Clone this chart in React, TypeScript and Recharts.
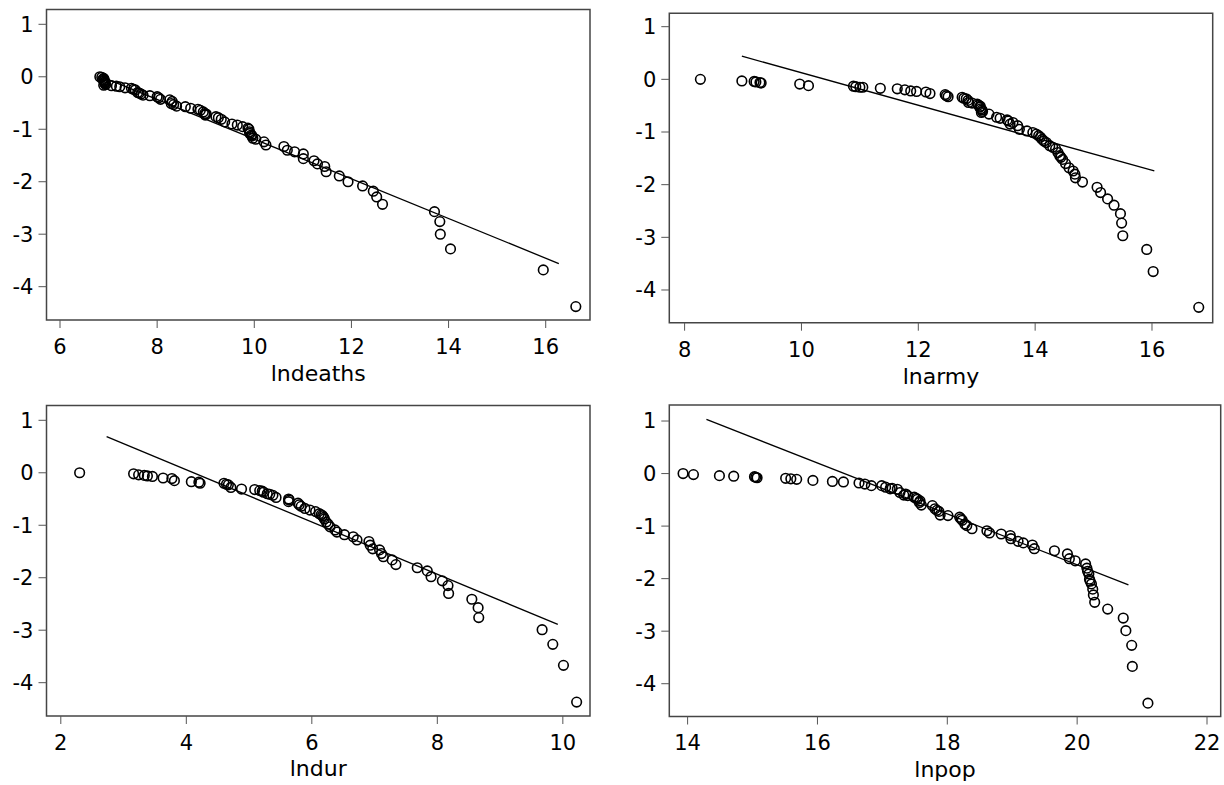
import { ScatterChart, Scatter, XAxis, YAxis, ReferenceArea } from "recharts";

// lndeaths panel (rank plot)
const deathsX = [6.82, 6.86, 6.9, 6.88, 6.91, 6.91, 6.92, 6.92, 6.93, 6.94, 6.9, 7.06, 7.16, 7.23, 7.34, 7.47, 7.51, 7.55, 7.6, 7.63, 7.67, 7.71, 7.85, 8.0, 8.03, 8.07, 8.26, 8.31, 8.29, 8.34, 8.4, 8.58, 8.69, 8.84, 8.89, 8.95, 8.98, 9.01, 8.99, 9.21, 9.26, 9.32, 9.39, 9.54, 9.65, 9.76, 9.87, 9.89, 9.9, 9.91, 9.94, 9.95, 9.97, 10.03, 10.2, 10.24, 10.61, 10.68, 10.83, 11.01, 11.01, 11.23, 11.3, 11.45, 11.48, 11.75, 11.93, 12.23, 12.45, 12.52, 12.64, 13.71, 13.82, 13.83, 14.04, 15.95, 16.62];
const deathsY = [0, -0.01, -0.03, -0.05, -0.06, -0.08, -0.1, -0.12, -0.13, -0.15, -0.16, -0.17, -0.18, -0.19, -0.21, -0.22, -0.24, -0.25, -0.3, -0.31, -0.33, -0.35, -0.36, -0.38, -0.4, -0.43, -0.44, -0.47, -0.51, -0.53, -0.56, -0.57, -0.6, -0.62, -0.64, -0.67, -0.7, -0.71, -0.73, -0.76, -0.78, -0.81, -0.86, -0.9, -0.92, -0.95, -0.98, -1.0, -1.05, -1.08, -1.11, -1.13, -1.17, -1.19, -1.24, -1.3, -1.33, -1.4, -1.43, -1.47, -1.56, -1.6, -1.66, -1.71, -1.81, -1.89, -2.0, -2.08, -2.18, -2.29, -2.43, -2.57, -2.76, -3.0, -3.28, -3.68, -4.38];
const deathsFitX = [6.86, 16.27];
const deathsFitY = [0.0, -3.56];

// lnarmy panel
const armyX = [8.27, 8.98, 9.19, 9.22, 9.29, 9.31, 9.97, 10.12, 10.89, 10.93, 11.0, 11.05, 11.35, 11.64, 11.77, 11.87, 11.97, 12.13, 12.2, 12.46, 12.48, 12.51, 12.75, 12.78, 12.82, 12.85, 12.86, 12.92, 13.01, 13.03, 13.06, 13.05, 13.07, 13.09, 13.1, 13.08, 13.21, 13.34, 13.4, 13.52, 13.54, 13.62, 13.57, 13.7, 13.73, 13.86, 13.96, 14.02, 14.06, 14.09, 14.12, 14.15, 14.19, 14.25, 14.3, 14.35, 14.39, 14.42, 14.44, 14.47, 14.52, 14.58, 14.65, 14.68, 14.69, 14.81, 15.06, 15.12, 15.24, 15.35, 15.46, 15.48, 15.5, 15.91, 16.02, 16.8];
const armyY = [0, -0.03, -0.04, -0.05, -0.06, -0.07, -0.09, -0.12, -0.13, -0.14, -0.15, -0.15, -0.17, -0.18, -0.2, -0.22, -0.23, -0.24, -0.27, -0.29, -0.31, -0.33, -0.34, -0.36, -0.37, -0.4, -0.44, -0.45, -0.47, -0.49, -0.51, -0.53, -0.56, -0.58, -0.61, -0.63, -0.66, -0.72, -0.74, -0.77, -0.79, -0.82, -0.85, -0.88, -0.95, -0.98, -1.01, -1.04, -1.07, -1.1, -1.14, -1.17, -1.2, -1.26, -1.29, -1.32, -1.39, -1.45, -1.48, -1.52, -1.6, -1.68, -1.74, -1.8, -1.87, -1.95, -2.05, -2.15, -2.27, -2.39, -2.55, -2.73, -2.97, -3.23, -3.65, -4.33];
const armyFitX = [8.98, 16.04];
const armyFitY = [0.44, -1.74];

// lndur panel
const durX = [2.3, 3.16, 3.24, 3.33, 3.38, 3.46, 3.63, 3.77, 3.81, 4.08, 4.2, 4.22, 4.6, 4.64, 4.67, 4.71, 4.88, 5.09, 5.17, 5.21, 5.23, 5.29, 5.33, 5.38, 5.43, 5.63, 5.64, 5.63, 5.78, 5.8, 5.83, 5.89, 5.97, 6.06, 6.12, 6.15, 6.17, 6.19, 6.2, 6.23, 6.26, 6.29, 6.37, 6.4, 6.52, 6.66, 6.72, 6.91, 6.93, 6.97, 7.08, 7.11, 7.14, 7.28, 7.34, 7.68, 7.84, 7.9, 8.08, 8.17, 8.18, 8.55, 8.65, 8.66, 9.67, 9.84, 10.01, 10.22];
const durY = [0, -0.02, -0.04, -0.05, -0.06, -0.07, -0.1, -0.11, -0.15, -0.17, -0.18, -0.2, -0.2, -0.22, -0.23, -0.28, -0.31, -0.32, -0.34, -0.35, -0.37, -0.4, -0.41, -0.43, -0.47, -0.5, -0.52, -0.55, -0.58, -0.61, -0.64, -0.68, -0.71, -0.74, -0.78, -0.8, -0.82, -0.85, -0.88, -0.94, -0.98, -1.03, -1.09, -1.13, -1.18, -1.22, -1.28, -1.31, -1.38, -1.45, -1.47, -1.54, -1.6, -1.66, -1.75, -1.81, -1.87, -1.98, -2.06, -2.15, -2.3, -2.41, -2.57, -2.76, -2.99, -3.27, -3.67, -4.37];
const durFitX = [2.73, 9.92];
const durFitY = [0.69, -2.89];

// lnpop panel
const popX = [13.93, 14.09, 14.49, 14.71, 15.03, 15.05, 15.07, 15.51, 15.59, 15.68, 15.93, 16.23, 16.4, 16.64, 16.73, 16.83, 16.99, 17.05, 17.15, 17.12, 17.23, 17.27, 17.36, 17.33, 17.39, 17.49, 17.52, 17.54, 17.58, 17.57, 17.6, 17.77, 17.81, 17.84, 17.87, 17.89, 18.01, 18.19, 18.21, 18.23, 18.27, 18.3, 18.38, 18.61, 18.65, 18.83, 18.97, 18.98, 19.09, 19.17, 19.31, 19.34, 19.65, 19.85, 19.88, 19.97, 20.13, 20.15, 20.16, 20.18, 20.19, 20.2, 20.22, 20.24, 20.25, 20.27, 20.47, 20.71, 20.75, 20.84, 20.85, 21.09];
const popY = [0, -0.02, -0.04, -0.05, -0.06, -0.07, -0.08, -0.09, -0.1, -0.11, -0.13, -0.15, -0.16, -0.18, -0.2, -0.23, -0.23, -0.26, -0.28, -0.29, -0.3, -0.36, -0.39, -0.41, -0.42, -0.45, -0.47, -0.49, -0.52, -0.55, -0.6, -0.61, -0.67, -0.7, -0.72, -0.79, -0.8, -0.83, -0.86, -0.89, -0.96, -0.99, -1.05, -1.09, -1.13, -1.15, -1.18, -1.24, -1.29, -1.32, -1.36, -1.43, -1.47, -1.53, -1.62, -1.66, -1.72, -1.8, -1.86, -1.91, -2.01, -2.05, -2.1, -2.2, -2.31, -2.45, -2.58, -2.75, -2.99, -3.27, -3.67, -4.37];
const popFitX = [14.29, 20.79];
const popFitY = [1.03, -2.12];

const yTicks = [-4, -3, -2, -1, 0, 1];
const deathsTicks = [6, 8, 10, 12, 14, 16];
const armyTicks = [8, 10, 12, 14, 16];
const durTicks = [2, 4, 6, 8, 10];
const popTicks = [14, 16, 18, 20, 22];

const FONT = '"DejaVu Sans", sans-serif';

const zip = (xs: number[], ys: number[]) => xs.map((x, i) => ({ x, y: ys[i] }));

const Ring = (props: any) => {
  const { cx, cy } = props;
  if (cx == null || cy == null) return <g />;
  return <circle cx={cx} cy={cy} r={4.8} fill="none" stroke="#000" strokeWidth={1.6} />;
};
const NoDot = () => <g />;

interface PanelProps {
  cx: number;
  cy: number;
  w: number;
  h: number;
  x0: number;
  x1: number;
  y0: number;
  y1: number;
  xDomain: [number, number];
  yDomain: [number, number];
  xTicks: number[];
  title: string;
  baseline: number;
  points: { x: number; y: number }[];
  fit: { x: number; y: number }[];
}

function Panel(p: PanelProps) {
  const tickStyle = { fill: "#000", fontSize: 21, fontFamily: FONT };
  return (
    <div style={{ position: "absolute", left: p.cx, top: p.cy }}>
      <ScatterChart
        width={p.w}
        height={p.h}
        margin={{ top: p.y0 - p.cy, right: p.cx + p.w - p.x1, bottom: 0, left: 0 }}
      >
        <XAxis
          type="number"
          dataKey="x"
          domain={p.xDomain}
          allowDataOverflow
          ticks={p.xTicks}
          interval={0}
          tick={tickStyle}
          tickSize={8}
          tickMargin={11}
          tickLine={{ stroke: "#555" }}
          axisLine={false}
          height={p.cy + p.h - p.y1}
          label={{
            value: p.title,
            position: "insideBottom",
            offset: p.cy + p.h - p.baseline,
            style: { fill: "#000", fontSize: 22, fontFamily: FONT },
          }}
        />
        <YAxis
          type="number"
          dataKey="y"
          domain={p.yDomain}
          allowDataOverflow
          ticks={yTicks}
          interval={0}
          tick={tickStyle}
          tickSize={8}
          tickMargin={5}
          tickLine={{ stroke: "#555" }}
          axisLine={false}
          width={p.x0 - p.cx}
        />
        <ReferenceArea
          x1={p.xDomain[0]}
          x2={p.xDomain[1]}
          y1={p.yDomain[0]}
          y2={p.yDomain[1]}
          fill="none"
          stroke="#454545"
          strokeWidth={1.5}
        />
        <Scatter data={p.points} shape={Ring} isAnimationActive={false} />
        <Scatter
          data={p.fit}
          shape={NoDot}
          line={{ stroke: "#000", strokeWidth: 1.3 }}
          lineType="joint"
          isAnimationActive={false}
        />
      </ScatterChart>
    </div>
  );
}

export default function App() {
  return (
    <div style={{ position: "absolute", left: 0, top: 0, width: 1224, height: 785, background: "#fff" }}>
      <Panel
        cx={0} cy={0} w={604} h={395}
        x0={46.5} x1={590} y0={9.5} y1={320}
        xDomain={[5.722, 16.912]} yDomain={[-4.635, 1.282]}
        xTicks={deathsTicks} title="lndeaths" baseline={381}
        points={zip(deathsX, deathsY)} fit={zip(deathsFitX, deathsFitY)}
      />
      <Panel
        cx={606} cy={0} w={618} h={395}
        x0={669.3} x1={1212.7} y0={13.3} y1={322.7}
        xDomain={[7.738, 17.039]} yDomain={[-4.621, 1.254]}
        xTicks={armyTicks} title="lnarmy" baseline={384}
        points={zip(armyX, armyY)} fit={zip(armyFitX, armyFitY)}
      />
      <Panel
        cx={0} cy={396} w={604} h={389}
        x0={46.5} x1={590} y0={405.5} y1={716}
        xDomain={[1.772, 10.433]} yDomain={[-4.635, 1.282]}
        xTicks={durTicks} title="lndur" baseline={776}
        points={zip(durX, durY)} fit={zip(durFitX, durFitY)}
      />
      <Panel
        cx={606} cy={396} w={618} h={389}
        x0={669.3} x1={1220.7} y0={405} y1={716.5}
        xDomain={[13.718, 22.211]} yDomain={[-4.624, 1.305]}
        xTicks={popTicks} title="lnpop" baseline={777}
        points={zip(popX, popY)} fit={zip(popFitX, popFitY)}
      />
    </div>
  );
}
